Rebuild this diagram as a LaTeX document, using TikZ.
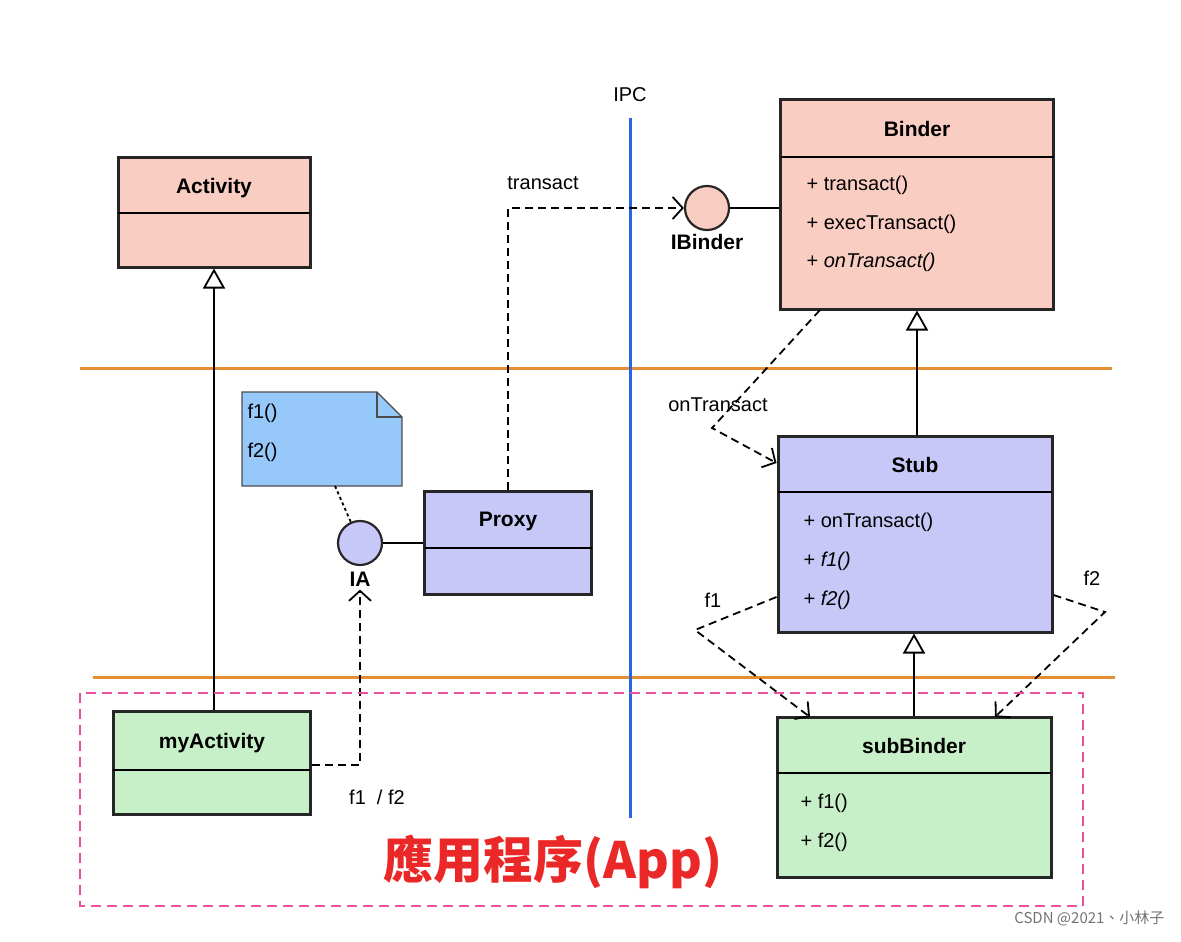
\documentclass[tikz,border=0pt]{standalone}
\usepackage{fontspec}
\setmainfont{Liberation Sans}
\newfontfamily\cjk{Noto Sans CJK TC}
\usetikzlibrary{arrows.meta,positioning}
\definecolor{clspink}{RGB}{250,205,195}
\definecolor{clsblue}{RGB}{200,200,248}
\definecolor{clsgreen}{RGB}{200,240,200}
\definecolor{noteblue}{RGB}{150,200,250}
\definecolor{ipcblue}{RGB}{40,100,230}
\definecolor{orangeline}{RGB}{230,140,50}
\definecolor{appred}{RGB}{235,40,40}
\definecolor{apppink}{RGB}{235,80,160}
\tikzset{
  cls/.style={draw=black!85,line width=3pt,inner sep=0pt},
  title/.style={font=\bfseries\fontsize{21}{25}\selectfont},
  item/.style={anchor=west,font=\fontsize{20}{24}\selectfont},
  lbl/.style={font=\fontsize{20}{24}\selectfont},
  iface/.style={circle,draw=black!85,line width=2.2pt,minimum size=44pt,inner sep=0pt},
  gen/.style={-{Triangle[open,length=20pt,width=22pt]},line width=1.8pt},
  dep/.style={-{Straight Barb[length=10pt,width=22pt]},dashed,dash pattern=on 8pt off 5pt,line width=1.8pt},
}
\begin{document}
\begin{tikzpicture}[x=1pt,y=-1pt]
\useasboundingbox (0,0) rectangle (1181,942);

% swim lanes
\draw[orangeline,line width=3pt] (80,368) -- (1112,368);
\draw[orangeline,line width=3pt] (93,677) -- (1115,677);
\draw[ipcblue,line width=3pt] (630,118) -- (630,818);
\node[lbl] (ipc) at (630,95) {IPC};

% classes
\node[cls,fill=clspink,minimum width=192,minimum height=110] (act) at (214,212) {};
\draw[line width=2pt] (118,213) -- (310,213);
\node[title] at (214,188) {Activity};

\node[cls,fill=clspink,minimum width=273,minimum height=210] (binder) at (917,204) {};
\draw[line width=2pt] (781,157) -- (1054,157);
\node[title] at (917,129) {Binder};
\node[item] at (803,185) {+ transact()};
\node[item] at (803,224) {+ execTransact()};
\node[item] at (803,262) {+ \itshape onTransact()};

\node[cls,fill=clsblue,minimum width=274,minimum height=196] (stub) at (915,534) {};
\draw[line width=2pt] (778,492) -- (1052,492);
\node[title] at (915,465) {Stub};
\node[item] at (800,522) {+ onTransact()};
\node[item] at (800,561) {+ \itshape f1()};
\node[item] at (800,600) {+ \itshape f2()};

\node[cls,fill=clsgreen,minimum width=274,minimum height=160] (sub) at (914,797) {};
\draw[line width=2pt] (777,773) -- (1051,773);
\node[title] at (914,746) {subBinder};
\node[item] at (797,803) {+ f1()};
\node[item] at (797,842) {+ f2()};

\node[cls,fill=clsgreen,minimum width=197,minimum height=103] (myact) at (212,763) {};
\draw[line width=2pt] (113,770) -- (310,770);
\node[title] at (212,743) {myActivity};

\node[cls,fill=clsblue,minimum width=167,minimum height=103] (proxy) at (508,543) {};
\draw[line width=2pt] (425,548) -- (592,548);
\node[title] at (508,521) {Proxy};

% interfaces
\node[iface,fill=clspink] (ibinder) at (707,208) {};
\node[title,below=0pt of ibinder] {IBinder};
\draw[line width=2pt] (ibinder) -- (binder.west |- ibinder);
\node[iface,fill=clsblue] (ia) at (360,543) {};
\node[title,below=2pt of ia] (ialbl) {IA};
\draw[line width=2pt] (ia) -- (proxy.west |- ia);

% note
\filldraw[fill=noteblue,draw=black!70,line width=1.2pt]
  (242,392) -- (377,392) -- (402,417) -- (402,486) -- (242,486) -- cycle;
\draw[black!70,line width=1.2pt] (377,392) -- (377,417) -- (402,417);
\node[lbl,anchor=west] (n1) at (244,413) {f1()};
\node[lbl,anchor=west] (n2) at (244,452) {f2()};
\coordinate (note) at (335,486);
\draw[dashed,line width=1.8pt] (note) -- (ia);

% generalizations
\draw[gen] (act.south |- myact.north) -- (act.south);
\draw[gen] (stub.north -| binder.south) -- (binder.south);
\draw[gen] (sub.north) -- (sub.north |- stub.south);

% dependencies
\draw[dep] (proxy.north) |- (ibinder.west);
\node[lbl] at (543,183) {transact};
\draw[dep] (myact.east |- 0,765) -| (ialbl.south);
\node[lbl] at (377,797) {f1~~/~f2};
\draw[dep] (820,310) -- (712,428) -- (stub.west |- 0,463);
\node[lbl] at (718,405) {onTransact};
\draw[dep] (stub.west |- 0,597) -- (695,630) -- (810,717);
\node[lbl] at (713,600) {f1};
\draw[dep] (stub.east |- 0,595) -- (1105,612) -- (995,717);
\node[lbl] at (1092,578) {f2};

% application frame
\draw[apppink,line width=2pt,dash pattern=on 10pt off 6pt] (80,693) rectangle (1083,906);
\node[appred,font=\cjk\bfseries\fontsize{50}{56}\selectfont] (app) at (553,862) {應用程序(App)};
\node[black!55,font=\cjk\fontsize{15}{18}\selectfont,anchor=east] (wm) at (1168,918) {CSDN @2021、小林子};
\end{tikzpicture}
\end{document}
